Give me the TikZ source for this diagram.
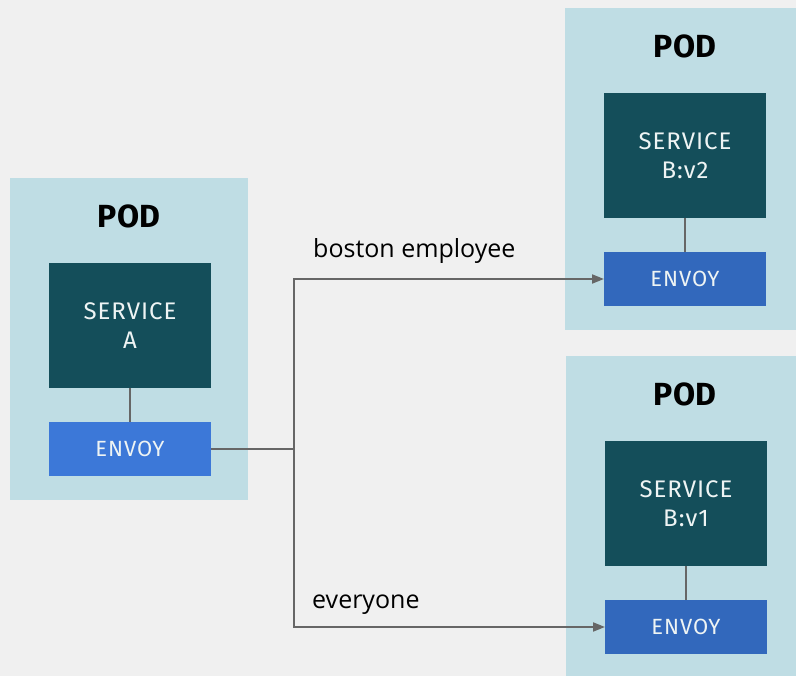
\documentclass[tikz,border=0pt]{standalone}
\usepackage{fontspec}
\setmainfont{Fira Sans}
\newfontfamily\boxfont[LetterSpace=4]{Fira Sans}
\newfontfamily\labelfont{Open Sans}
\usetikzlibrary{arrows.meta}
\definecolor{bg}{HTML}{F0F0F0}
\definecolor{podc}{HTML}{BFDDE4}
\definecolor{svc}{HTML}{144E5A}
\definecolor{envA}{HTML}{3C78D8}
\definecolor{envB}{HTML}{3268BC}
\definecolor{lin}{HTML}{666666}
\definecolor{boxtext}{HTML}{EEF4F4}
\begin{document}
\begin{tikzpicture}[x=1pt,y=-1pt,
  podbox/.style={fill=podc, inner sep=0pt, outer sep=0pt, minimum width=#1, minimum height=322pt},
  svcbox/.style={fill=svc, inner sep=0pt, outer sep=0pt, minimum width=162pt, minimum height=125pt,
    text=boxtext, align=center, font=\boxfont\fontsize{24}{29}\selectfont},
  envbox/.style={fill=#1, inner sep=0pt, outer sep=0pt, minimum width=162pt, minimum height=54pt,
    text=boxtext, font=\boxfont\fontsize{22}{26}\selectfont},
  podlabel/.style={font=\bfseries\fontsize{32}{38}\selectfont, inner sep=0pt},
  link/.style={draw=lin, line width=2pt},
  flow/.style={link, -{Triangle[length=12pt,width=9pt]}},
  edgelabel/.style={font=\labelfont\fontsize{25}{30}\selectfont, anchor=base west, inner sep=0pt}
]
\useasboundingbox[fill=bg] (0,0) rectangle (796,676);
\begin{scope}
\clip (0,0) rectangle (796,676);
% pods
\node[podbox=238pt] (podA) at (129,339) {};
\node[podbox=231pt] (podB2) at (680.5,169) {};
\node[podbox=230pt] (podB1) at (681,517) {};
\end{scope}
\node[podlabel] (podAlabel) at (129,216) {POD};
\node[podlabel] (podB2label) at (685,46) {POD};
\node[podlabel] (podB1label) at (685,394) {POD};
% services
\node[svcbox] (svcA) at (130,325.5) {SERVICE\\A};
\node[svcbox] (svcB2) at (685,155.5) {SERVICE\\B:v2};
\node[svcbox] (svcB1) at (686,503.5) {SERVICE\\B:v1};
% envoys
\node[envbox=envA] (envA) at (130,449) {ENVOY};
\node[envbox=envB] (envB2) at (685,279) {ENVOY};
\node[envbox=envB] (envB1) at (686,627) {ENVOY};
% sidecar links
\draw[link] (svcA) -- (envA);
\draw[link] (svcB2) -- (envB2);
\draw[link] (svcB1) -- (envB1);
% routing
\coordinate (split) at (294,449);
\draw[link] (envA.east) -- (split);
\draw[flow] (split) |- (envB2.west);
\draw[flow] (split) |- (envB1.west);
\node[edgelabel] (lblBoston) at (313,258) {boston employee};
\node[edgelabel] (lblEveryone) at (312,608) {everyone};
\end{tikzpicture}
\end{document}
